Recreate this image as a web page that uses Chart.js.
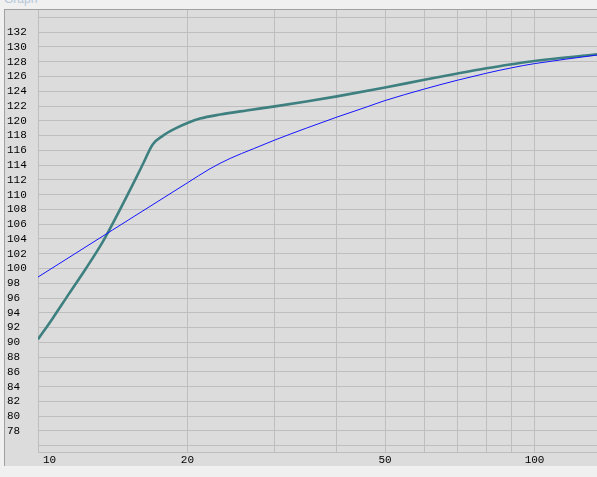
<!DOCTYPE html>
<html>
<head>
<meta charset="utf-8">
<script src="https://cdn.jsdelivr.net/npm/chart.js@4/dist/chart.umd.min.js"></script>
<style>
  html, body { margin: 0; padding: 0; background: #f0f0f0; overflow: hidden; }
  #wrap { position: relative; width: 597px; height: 477px; overflow: hidden; }
  #panel { position: absolute; left: 4px; top: 9px; width: 620px; height: 456px;
           background: #dcdcdc; border-left: 1px solid #a0a0a0; border-top: 1px solid #a0a0a0; }
  #title { position: absolute; left: 4px; top: -7px; font: 12px "Liberation Sans", Arial, sans-serif;
           color: #b4c6d8; line-height: 12px; }
  #c { position: absolute; left: 0; top: 0; }
</style>
</head>
<body>
<div id="wrap">
  <div id="title">Graph</div>
  <div id="panel"></div>
  <canvas id="c" width="597" height="477"></canvas>
</div>
<script>
// ---- data ----
const tealX = [10, 10.71, 11.56, 12.49, 13.50, 14.58, 15.76, 16.25, 17.02, 17.83, 18.97, 20, 21.2, 23.27, 26.3, 30, 34.7, 40, 50, 60, 70, 80, 90, 100, 133.6];
const tealY = [90.4, 93.27, 96.63, 100.0, 103.6, 107.8, 112.27, 114.08, 116.8, 117.96, 119.0, 119.7, 120.3, 120.85, 121.4, 121.95, 122.6, 123.3, 124.5, 125.55, 126.4, 127.1, 127.65, 128.1, 129.0];
const blueX = [10, 20, 22.2, 24.37, 27.13, 30, 34.7, 40, 46.0, 50, 60, 70, 80, 90, 100, 133.6];
const blueY = [98.84, 111.6, 113.5, 114.9, 116.2, 117.4, 119.0, 120.5, 121.89, 122.74, 124.3, 125.5, 126.44, 127.18, 127.74, 128.9];
const xGridTicks = [10, 20, 30, 40, 50, 60, 70, 80, 90, 100];
const xTickLabels = [10, 20, 50, 100];
const yTicks = [76, 78, 80, 82, 84, 86, 88, 90, 92, 94, 96, 98, 100, 102, 104, 106, 108, 110, 112, 114, 116, 118, 120, 122, 124, 126, 128, 130, 132, 134];
const yLabelled = [78, 80, 82, 84, 86, 88, 90, 92, 94, 96, 98, 100, 102, 104, 106, 108, 110, 112, 114, 116, 118, 120, 122, 124, 126, 128, 130, 132];
const xMin = 10, xMax = 133.6, yMin = 75.15, yMax = 135;

const pts = (xs, ys) => xs.map((x, i) => ({ x: x, y: ys[i] }));
const FONT = '"Liberation Mono", "Courier New", monospace';
const GRID = '#bebebe';

const xLabelPlugin = {
  id: 'xLabels',
  afterDraw(chart) {
    const ctx = chart.ctx, sx = chart.scales.x;
    ctx.save();
    ctx.font = '11px ' + FONT;
    ctx.fillStyle = '#000';
    ctx.textBaseline = 'middle';
    xTickLabels.forEach((v, i) => {
      const px = sx.getPixelForValue(v);
      if (i === 0) { ctx.textAlign = 'left'; ctx.fillText(String(v), px + 5, chart.chartArea.bottom + 8); }
      else { ctx.textAlign = 'center'; ctx.fillText(String(v), px, chart.chartArea.bottom + 8); }
    });
    ctx.restore();
  }
};

new Chart(document.getElementById('c'), {
  type: 'line',
  data: {
    datasets: [
      { data: pts(blueX, blueY), borderColor: '#1414ff', borderWidth: 1, pointRadius: 0, cubicInterpolationMode: 'monotone', fill: false },
      { data: pts(tealX, tealY), borderColor: '#3e7f7f', borderWidth: 2.6, pointRadius: 0, cubicInterpolationMode: 'monotone', fill: false }
    ]
  },
  options: {
    responsive: false,
    animation: false,
    events: [],
    layout: { padding: { left: 7, top: 10, right: 0, bottom: 25 } },
    plugins: { legend: { display: false }, tooltip: { enabled: false } },
    scales: {
      x: {
        type: 'logarithmic',
        min: xMin, max: xMax,
        afterBuildTicks(s) { s.ticks = xGridTicks.map(v => ({ value: v })); },
        afterFit(s) { s.height = 0; },
        ticks: { display: false, autoSkip: false },
        grid: { color: GRID, lineWidth: 1, drawTicks: false },
        border: { display: true, color: GRID, width: 1 }
      },
      y: {
        type: 'linear',
        min: yMin, max: yMax,
        afterBuildTicks(s) { s.ticks = yTicks.map(v => ({ value: v })); },
        afterFit(s) { s.width = 31; },
        ticks: {
          autoSkip: false,
          crossAlign: 'far',
          padding: 0,
          color: '#000',
          font: { family: FONT, size: 11 },
          callback: (v) => yLabelled.includes(v) ? String(v) : ''
        },
        grid: { color: GRID, lineWidth: 1, drawTicks: false },
        border: { display: true, color: GRID, width: 1 }
      }
    }
  },
  plugins: [xLabelPlugin]
});
</script>
</body>
</html>
